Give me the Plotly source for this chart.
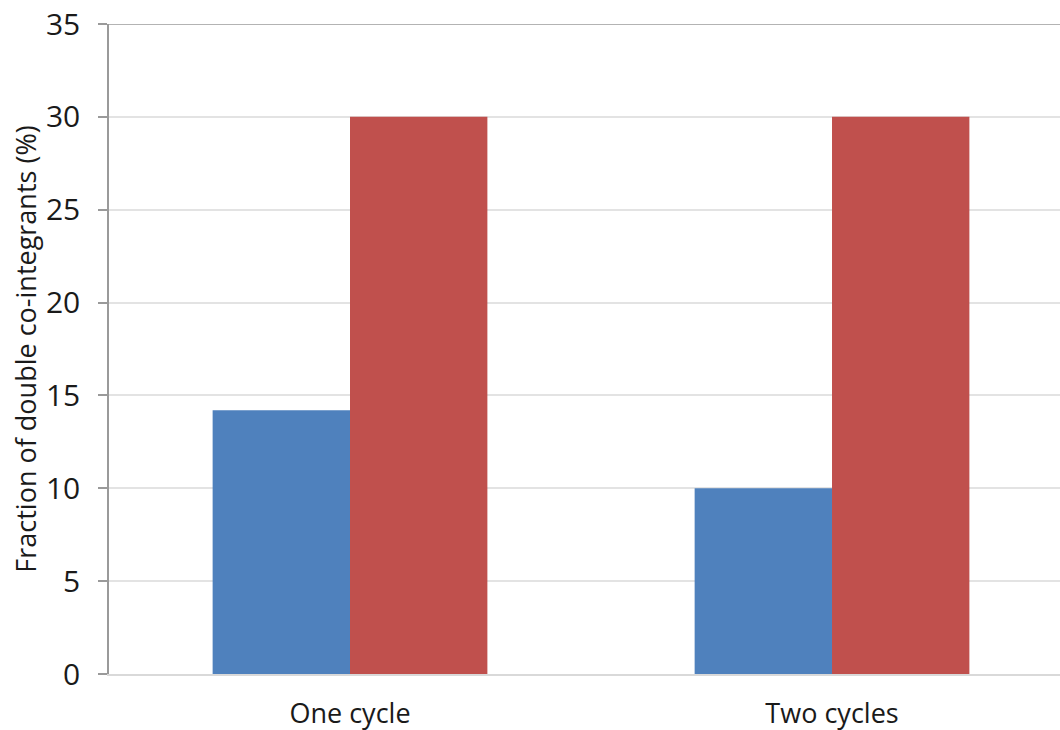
import plotly.graph_objects as go

# Fraction of double co-integrants per number of cycles
categories = ["One cycle", "Two cycles"]
series_a = [14.2, 10.0]
series_b = [30.0, 30.0]
y_ticks = [0, 5, 10, 15, 20, 25, 30, 35]

BLUE = "#4F81BD"
RED = "#C0504D"
FONT = "Open Sans, Liberation Sans, sans-serif"

fig = go.Figure()
fig.add_trace(go.Bar(x=categories, y=series_a, name="Series 1",
                     marker=dict(color=BLUE, line=dict(width=0))))
fig.add_trace(go.Bar(x=categories, y=series_b, name="Series 2",
                     marker=dict(color=RED, line=dict(width=0))))

fig.update_layout(
    width=1060, height=730,
    margin=dict(l=109, r=0, t=24, b=56),
    paper_bgcolor="white", plot_bgcolor="white",
    barmode="group", bargap=0.43, bargroupgap=0,
    showlegend=False,
    font=dict(family=FONT, color="#1a1a1a"),
    xaxis=dict(
        type="category",
        range=[-0.5, 1.473],
        automargin=False,
        showline=True, linecolor="#d9d9d9", linewidth=2,
        ticks="", showgrid=False,
        tickfont=dict(size=27, family=FONT),
        ticklabelstandoff=15,
    ),
    yaxis=dict(
        range=[0, 35], tickvals=y_ticks,
        automargin=False,
        showgrid=True, gridcolor="#e3e3e3", gridwidth=1.5,
        showline=True, linecolor="#9a9a9a", linewidth=1.5,
        ticks="outside", ticklen=9, tickcolor="#9a9a9a", tickwidth=1.5,
        tickfont=dict(size=30, family=FONT),
        ticklabelstandoff=12,
        zeroline=False,
        title=dict(text="Fraction of double co-integrants (%)",
                   font=dict(size=27, family=FONT), standoff=1),
    ),
)

# darker frame line along the top of the plot area
fig.add_shape(type="line", xref="paper", yref="y", x0=0, x1=1, y0=35, y1=35,
              line=dict(color="#9a9a9a", width=1.5), layer="above")

fig.write_html("out.html")
